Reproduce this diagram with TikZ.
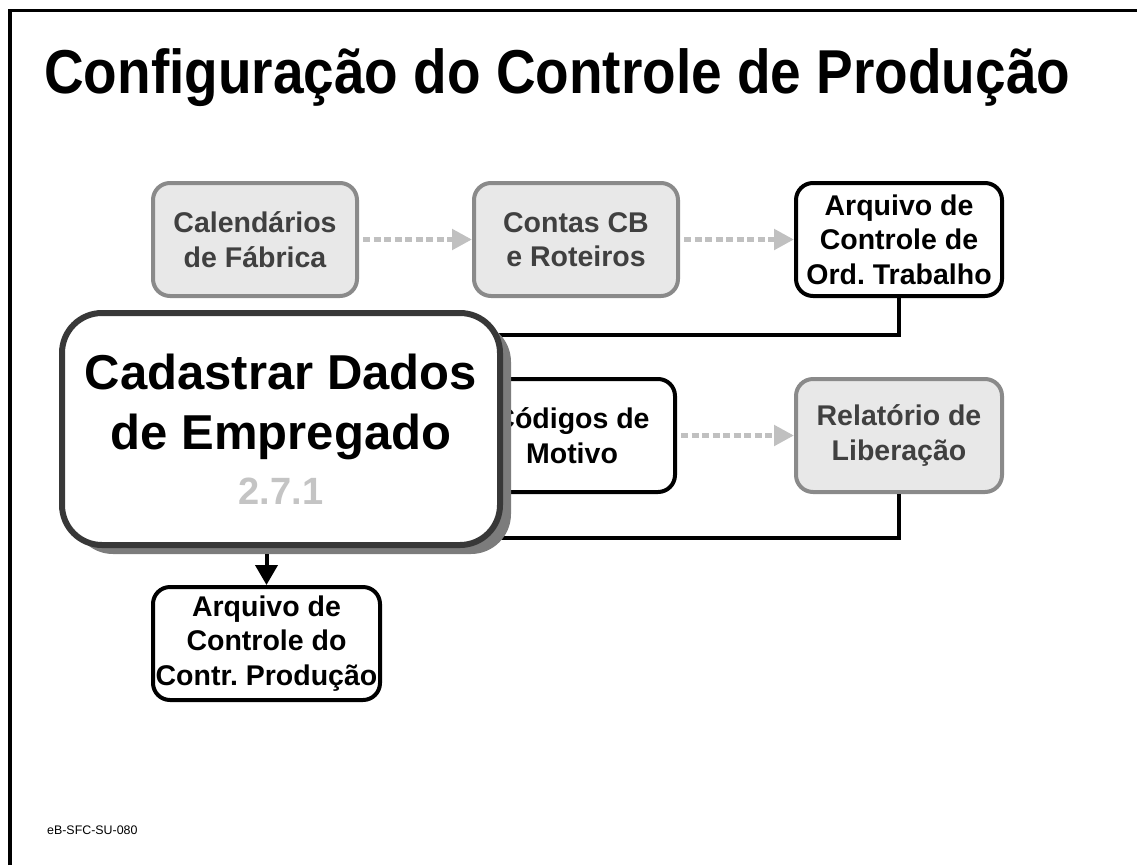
\documentclass[tikz,border=0pt]{standalone}
\usepackage{fontspec}
\setmainfont{Liberation Sans}
\usetikzlibrary{arrows.meta,shadows}
\definecolor{gfill}{HTML}{E8E8E8}
\definecolor{gborder}{HTML}{8A8A8A}
\definecolor{gtext}{HTML}{404040}
\definecolor{dasharrow}{HTML}{C0C0C0}
\definecolor{mainborder}{HTML}{383838}
\definecolor{shadowgray}{HTML}{7C7C7C}
\definecolor{numgray}{HTML}{C4C4C4}
\frenchspacing
\tikzset{
  smallbox/.style={rounded corners=17pt, line width=4pt, align=center, inner sep=0pt,
    minimum width=#1, minimum height=113pt, font=\bfseries\fontsize{28.5}{34.5}\selectfont},
  graybox/.style={smallbox=204pt, draw=gborder, fill=gfill, text=gtext},
  blackbox/.style={smallbox=#1, draw=black, fill=white, text=black},
  mainbox/.style={rounded corners=40pt, line width=6pt, draw=mainborder, fill=white,
    minimum width=438pt, minimum height=232pt, align=center, inner sep=0pt,
    font=\bfseries\fontsize{49}{60}\selectfont,
    drop shadow={shadow xshift=11pt, shadow yshift=-9pt, fill=shadowgray, opacity=1}},
  grayflow/.style={draw=dasharrow, line width=5.5pt, dash pattern=on 7pt off 3.5pt,
    shorten <=4pt, -{Triangle[length=20pt,width=20pt,fill=dasharrow]}},
  feed/.style={draw=black, line width=4pt},
  down/.style={draw=black, line width=4pt, -{Triangle[length=20pt,width=22pt]}}
}
\begin{document}
\begin{tikzpicture}[x=1pt,y=-1pt]
\useasboundingbox (0,0) rectangle (1137,865);
% frame
\draw[line width=3.5pt] (10,865) -- (10,10.5) -- (1137,10.5);
% title
\node[anchor=base west, inner sep=0pt, font=\bfseries\fontsize{62}{68}\selectfont] (title) at (44,93)
  {\resizebox{1026pt}{\height}{Configuração do Controle de Produção}};
% top row
\node[graybox] (cal) at (255,239.5) {Calendários\\de Fábrica};
\node[graybox] (cont) at (576,239.5) {Contas CB\\e Roteiros};
\node[blackbox=206pt] (arqot) at (899,239.5) {Arquivo de\\Controle de\\Ord. Trabalho};
\draw[grayflow] (cal.east) -- (cont.west);
\draw[grayflow] (cont.east) -- (arqot.west);
% middle row
\node[blackbox=206pt] (cod) at (572,435.5) {Códigos de\\Motivo};
\node[graybox, minimum width=206pt] (rel) at (899,435.5) {Relatório de\\Liberação};
\draw[grayflow] (cod.east) -- (rel.west);
% feed lines
\coordinate (j1) at (470,335);
\coordinate (j2) at (470,538);
\draw[feed] (arqot.south) |- (j1);
\draw[feed] (rel.south) |- (j2);
% main box
\node[mainbox] (main) at (281,429) {Cadastrar Dados\\de Empregado\\[-5pt]{\color{numgray}\fontsize{38}{40}\selectfont 2.7.1}};
% bottom box
\node[blackbox=227pt] (ctrl) at (266.5,643.5) {Arquivo de\\Controle do\\Contr. Produção};
\coordinate (a0) at (266.5,554);
\draw[down] (a0) -- (ctrl.north);
% footer
\node[anchor=base west, inner sep=0pt, font=\fontsize{12.4}{14}\selectfont] (foot) at (47,834.5) {eB-SFC-SU-080};
\end{tikzpicture}
\end{document}
